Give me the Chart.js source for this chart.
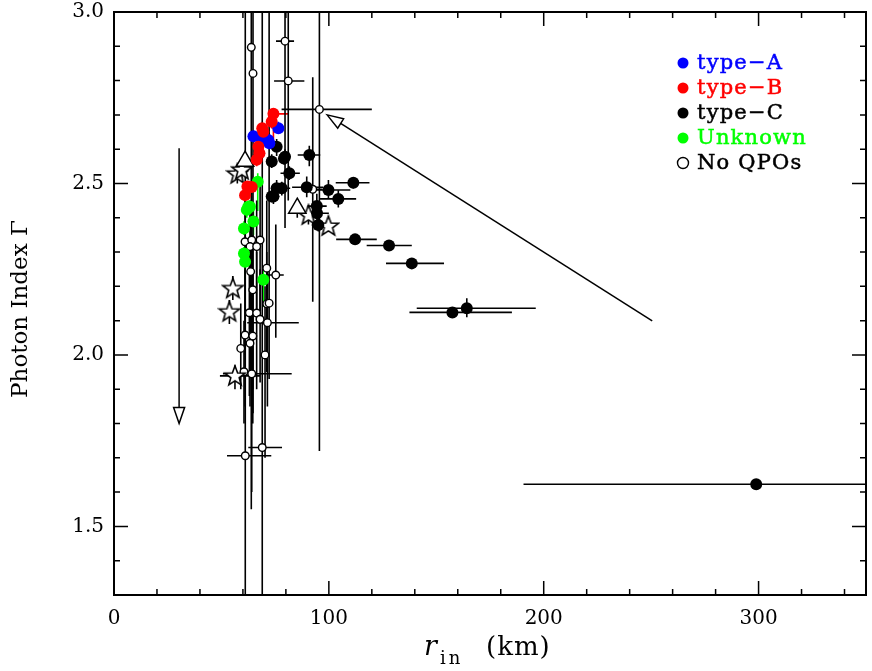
<!DOCTYPE html>
<html>
<head>
<meta charset="utf-8">
<script src="https://cdn.jsdelivr.net/npm/chart.js@4.4.0/dist/chart.umd.min.js"></script>
<style>
html, body { margin: 0; padding: 0; background: #fff; }
</style>
</head>
<body>
<canvas id="gammaChart" width="872" height="671"></canvas>
<script>
// each row: [r_in, Gamma, r_low, r_high, Gamma_low, Gamma_high]
const typeA = [
    [76.5, 2.661, 75.0, 78.0, 2.645, 2.680],
    [64.9, 2.638, 63.5, 66.5, 2.620, 2.655],
    [68.8, 2.629, 67.5, 70.5, 2.610, 2.650],
    [71.8, 2.627, 70.5, 73.5, 2.610, 2.645],
    [72.3, 2.617, 71.0, 74.0, 2.600, 2.635]
];
const typeB = [
    [74.2, 2.703, 72.6, 81.1, 2.610, 2.720],
    [73.4, 2.680, 72.0, 75.0, 2.660, 2.700],
    [69.0, 2.661, 67.5, 70.5, 2.645, 2.680],
    [69.5, 2.651, 68.0, 71.0, 2.635, 2.670],
    [67.2, 2.607, 66.0, 68.5, 2.590, 2.625],
    [67.7, 2.588, 66.5, 69.0, 2.570, 2.605],
    [66.4, 2.569, 65.0, 68.0, 2.550, 2.585],
    [64.1, 2.490, 63.0, 65.5, 2.475, 2.505],
    [62.1, 2.491, 61.0, 63.5, 2.475, 2.505],
    [61.0, 2.466, 60.0, 62.0, 2.450, 2.480]
];
const typeC = [
    [75.7, 2.607, 74.0, 77.5, 2.580, 2.630],
    [79.6, 2.578, 77.5, 81.5, 2.555, 2.600],
    [73.4, 2.564, 72.0, 75.0, 2.545, 2.585],
    [79.1, 2.573, 77.0, 81.0, 2.555, 2.590],
    [90.9, 2.583, 85.5, 96.0, 2.550, 2.610],
    [81.6, 2.530, 77.5, 86.5, 2.510, 2.550],
    [75.7, 2.486, 73.0, 80.0, 2.460, 2.510],
    [78.1, 2.486, 75.0, 82.0, 2.465, 2.505],
    [74.2, 2.462, 72.0, 77.0, 2.440, 2.480],
    [73.4, 2.462, 71.5, 76.0, 2.445, 2.480],
    [89.7, 2.489, 82.9, 97.3, 2.460, 2.520],
    [99.8, 2.481, 92.0, 110.0, 2.455, 2.510],
    [111.4, 2.502, 103.2, 118.9, 2.485, 2.515],
    [104.4, 2.455, 95.9, 112.7, 2.430, 2.480],
    [94.4, 2.434, 90.0, 99.0, 2.400, 2.470],
    [94.5, 2.413, 89.0, 100.0, 2.390, 2.450],
    [95.1, 2.379, 92.0, 98.0, 2.360, 2.400],
    [112.2, 2.337, 103.4, 122.3, 2.330, 2.345],
    [128.0, 2.319, 117.6, 138.6, 2.310, 2.330],
    [138.6, 2.267, 126.6, 153.6, 2.255, 2.280],
    [157.5, 2.124, 137.5, 185.2, 2.110, 2.140],
    [164.2, 2.136, 140.9, 196.3, 2.110, 2.165],
    [298.9, 1.623, 190.6, 360.0, 1.615, 1.630]
];
const unknown = [
    [66.9, 2.505, 66.0, 68.0, 2.420, 2.530],
    [62.5, 2.432, 61.5, 63.5, 2.410, 2.450],
    [63.3, 2.432, 62.3, 64.3, 2.410, 2.450],
    [61.8, 2.423, 60.8, 62.8, 2.400, 2.440],
    [64.9, 2.389, 64.0, 66.0, 2.350, 2.430],
    [60.5, 2.369, 59.5, 61.5, 2.350, 2.390],
    [60.5, 2.296, 59.5, 61.5, 2.275, 2.315],
    [61.0, 2.272, 60.0, 62.0, 2.220, 2.290],
    [69.5, 2.219, 68.5, 70.5, 2.140, 2.250]
];
const noQPOs = [
    [63.9, 2.897, 62.5, 65.5, 1.550, 3.200],
    [64.7, 2.821, 63.5, 66.0, 1.830, 3.200],
    [79.6, 2.915, 75.4, 83.8, 2.370, 3.200],
    [81.1, 2.799, 74.5, 88.6, 2.450, 3.100],
    [95.6, 2.716, 78.0, 120.0, 1.720, 3.200],
    [92.5, 2.483, 88.0, 97.0, 2.155, 2.810],
    [61.1, 1.706, 52.6, 73.2, 1.200, 3.100],
    [69.0, 1.730, 62.5, 78.2, 1.200, 3.100],
    [61.0, 2.330, 60.0, 62.0, 2.000, 2.500],
    [64.1, 2.335, 63.0, 65.0, 1.900, 2.550],
    [68.0, 2.335, 66.5, 69.5, 2.100, 2.500],
    [63.3, 2.316, 62.0, 64.5, 2.050, 2.450],
    [66.4, 2.316, 65.0, 67.5, 2.100, 2.450],
    [63.6, 2.243, 62.5, 64.5, 1.950, 2.400],
    [71.1, 2.253, 69.0, 73.0, 2.000, 2.450],
    [75.3, 2.233, 71.0, 79.0, 2.050, 2.380],
    [64.6, 2.190, 63.5, 65.5, 1.900, 2.350],
    [71.1, 2.149, 70.0, 72.5, 1.950, 2.300],
    [63.0, 2.123, 62.0, 64.0, 1.880, 2.300],
    [66.4, 2.122, 65.0, 67.5, 1.900, 2.300],
    [68.0, 2.104, 67.0, 69.0, 1.920, 2.250],
    [71.4, 2.094, 62.0, 86.0, 1.850, 2.250],
    [61.0, 2.058, 60.0, 62.0, 1.850, 2.250],
    [64.6, 2.055, 63.5, 65.5, 1.800, 2.250],
    [59.0, 2.019, 58.0, 60.0, 1.900, 2.150],
    [63.3, 2.034, 62.0, 64.5, 1.850, 2.200],
    [70.3, 2.000, 69.0, 71.5, 1.700, 2.200],
    [60.5, 1.951, 59.5, 61.5, 1.800, 2.100],
    [64.1, 1.945, 50.7, 82.7, 1.600, 2.200],
    [72.2, 2.151, 71.0, 74.0, 1.930, 3.200]
];
const stars = [
    [57.4, 2.528, 55.5, 59.5, 2.500, 2.555],
    [59.5, 2.540, 57.5, 61.5, 2.515, 2.565],
    [90.5, 2.408, 88.0, 93.0, 2.380, 2.430],
    [99.8, 2.376, 97.0, 102.0, 2.360, 2.390],
    [55.3, 2.194, 54.0, 56.5, 2.160, 2.230],
    [53.7, 2.126, 52.5, 55.0, 2.090, 2.160],
    [56.3, 1.939, 49.3, 68.0, 1.900, 1.970]
];
const triangles = [
    [61.0, 2.565, 59.5, 62.5, 2.530, 2.590],
    [85.3, 2.428, 83.5, 87.0, 2.400, 2.450]
];
// [x_from, y_from, x_to, y_to]
const arrows = [
    [250.5, 2.099, 99.2, 2.700],
    [30.3, 2.603, 30.3, 1.800]
];
const legendNames = ['type\u2212A', 'type\u2212B', 'type\u2212C', 'Unknown', 'No QPOs'];
const legendColors = ['#0000ff', '#ff0000', '#000000', '#00ff00', '#000000'];
const xTicks = [0, 100, 200, 300];
const yTicks = [1.5, 2.0, 2.5, 3.0];

const serif = '"DejaVu Serif", "Liberation Serif", serif';

function toPoints(rows) {
    return rows.map(r => ({x: r[0], y: r[1], xl: r[2], xh: r[3], yl: r[4], yh: r[5]}));
}

// open five pointed star marker
const starImg = document.createElement('canvas');
starImg.width = 24;
starImg.height = 24;
(function () {
    const c = starImg.getContext('2d');
    c.beginPath();
    for (let i = 0; i < 10; i++) {
        const r = i % 2 === 0 ? 10.5 : 4.4;
        const a = -Math.PI / 2 + i * Math.PI / 5;
        const px = 12 + r * Math.cos(a), py = 12.5 + r * Math.sin(a);
        if (i === 0) c.moveTo(px, py); else c.lineTo(px, py);
    }
    c.closePath();
    c.fillStyle = '#fff';
    c.fill();
    c.lineWidth = 1.6;
    c.strokeStyle = '#000';
    c.stroke();
})();

const errorBars = {
    id: 'errorBars',
    beforeDatasetsDraw(chart) {
        const {ctx, chartArea: a, scales: {x, y}} = chart;
        ctx.save();
        ctx.beginPath();
        ctx.rect(a.left, a.top, a.right - a.left, a.bottom - a.top);
        ctx.clip();
        const metas = chart.getSortedVisibleDatasetMetas();
        metas.forEach(meta => {
            const ds = chart.data.datasets[meta.index];
            ctx.strokeStyle = ds.barColor;
            ctx.lineWidth = 1.6;
            ds.data.forEach(p => {
                const px = x.getPixelForValue(p.x), py = y.getPixelForValue(p.y);
                ctx.beginPath();
                ctx.moveTo(x.getPixelForValue(p.xl), py);
                ctx.lineTo(x.getPixelForValue(p.xh), py);
                ctx.moveTo(px, y.getPixelForValue(p.yl));
                ctx.lineTo(px, y.getPixelForValue(p.yh));
                ctx.stroke();
            });
        });
        ctx.restore();
    }
};

const frameAndNotes = {
    id: 'frameAndNotes',
    afterDraw(chart) {
        const {ctx, chartArea: a, scales: {x, y}} = chart;
        ctx.save();
        // arrows
        ctx.strokeStyle = '#000';
        ctx.lineWidth = 1.5;
        arrows.forEach(ar => {
            const x0 = x.getPixelForValue(ar[0]), y0 = y.getPixelForValue(ar[1]);
            const x1 = x.getPixelForValue(ar[2]), y1 = y.getPixelForValue(ar[3]);
            const ang = Math.atan2(y1 - y0, x1 - x0);
            const len = 16, half = 5.5;
            const bx = x1 - len * Math.cos(ang), by = y1 - len * Math.sin(ang);
            ctx.beginPath();
            ctx.moveTo(x0, y0);
            ctx.lineTo(bx, by);
            ctx.stroke();
            ctx.beginPath();
            ctx.moveTo(x1, y1);
            ctx.lineTo(bx + half * Math.sin(ang), by - half * Math.cos(ang));
            ctx.lineTo(bx - half * Math.sin(ang), by + half * Math.cos(ang));
            ctx.closePath();
            ctx.fillStyle = '#fff';
            ctx.fill();
            ctx.stroke();
        });

        // frame and ticks on all four sides
        ctx.lineWidth = 2;
        ctx.strokeRect(a.left, a.top, a.right - a.left, a.bottom - a.top);
        ctx.lineWidth = 1.5;
        ctx.beginPath();
        for (let v = 0; v <= 350; v += 20) {
            const px = x.getPixelForValue(v);
            const len = v % 100 === 0 ? 14 : 6;
            ctx.moveTo(px, a.bottom); ctx.lineTo(px, a.bottom - len);
            ctx.moveTo(px, a.top); ctx.lineTo(px, a.top + len);
        }
        for (let k = 13; k <= 30; k++) {
            const py = y.getPixelForValue(k / 10);
            const len = k % 5 === 0 ? 14 : 6;
            ctx.moveTo(a.left, py); ctx.lineTo(a.left + len, py);
            ctx.moveTo(a.right, py); ctx.lineTo(a.right - len, py);
        }
        ctx.stroke();

        // legend
        ctx.textBaseline = 'middle';
        ctx.textAlign = 'left';
        ctx.font = '21px ' + serif;
        ctx.letterSpacing = '1.2px';
        legendNames.forEach((name, i) => {
            const ly = 63 + i * 25;
            ctx.beginPath();
            ctx.arc(683, ly, 5.5, 0, Math.PI * 2);
            if (i < 4) {
                ctx.fillStyle = legendColors[i];
                ctx.fill();
            } else {
                ctx.fillStyle = '#fff';
                ctx.fill();
                ctx.lineWidth = 1.4;
                ctx.strokeStyle = '#000';
                ctx.stroke();
            }
            ctx.fillStyle = legendColors[i];
            ctx.strokeStyle = legendColors[i];
            ctx.lineWidth = 0.5;
            ctx.fillText(name, 697, ly + 1);
            ctx.strokeText(name, 697, ly + 1);
        });

        // axis titles
        ctx.fillStyle = '#000';
        ctx.textBaseline = 'alphabetic';
        ctx.letterSpacing = '0px';
        ctx.font = 'italic 27px ' + serif;
        ctx.fillText('r', 424, 655);
        ctx.letterSpacing = '3px';
        ctx.font = '18px ' + serif;
        ctx.fillText('in', 440, 664);
        ctx.letterSpacing = '1px';
        ctx.font = '26px ' + serif;
        ctx.fillText('(km)', 486, 655);
        ctx.letterSpacing = '0px';

        ctx.translate(27, 309);
        ctx.rotate(-Math.PI / 2);
        ctx.textAlign = 'center';
        ctx.font = '23px ' + serif;
        ctx.fillText('Photon Index \u0393', 0, 0);
        ctx.restore();
    }
};

function series(rows, opts) {
    return Object.assign({data: toPoints(rows)}, opts);
}

function noPad(s) {
    s.paddingTop = 0;
    s.paddingBottom = 0;
    s.paddingLeft = 0;
    s.paddingRight = 0;
}

const ctx = document.getElementById('gammaChart').getContext('2d');
const gammaChart = new Chart(ctx, {
    type: 'scatter',
    data: {
        datasets: [
            series(typeB, {label: 'type-B', order: 1, barColor: '#ff0000', backgroundColor: '#ff0000', borderColor: '#ff0000', pointRadius: 6, borderWidth: 0}),
            series(typeA, {label: 'type-A', order: 2, barColor: '#0000ff', backgroundColor: '#0000ff', borderColor: '#0000ff', pointRadius: 6, borderWidth: 0}),
            series(unknown, {label: 'Unknown', order: 3, barColor: '#00ff00', backgroundColor: '#00ff00', borderColor: '#00ff00', pointRadius: 6, borderWidth: 0}),
            series(typeC, {label: 'type-C', order: 4, barColor: '#000000', backgroundColor: '#000000', borderColor: '#000000', pointRadius: 6, borderWidth: 0}),
            series(triangles, {label: 'tri', order: 5, barColor: '#000000', pointStyle: 'triangle', backgroundColor: '#ffffff', borderColor: '#000000', pointRadius: 10, borderWidth: 1.5}),
            series(stars, {label: 'star', order: 6, barColor: '#000000', pointStyle: starImg, pointRadius: 10}),
            series(noQPOs, {label: 'No QPOs', order: 7, barColor: '#000000', backgroundColor: '#ffffff', borderColor: '#000000', pointRadius: 3.8, borderWidth: 1.4})
        ]
    },
    options: {
        responsive: false,
        animation: false,
        devicePixelRatio: 1,
        layout: {autoPadding: false, padding: {top: 12, right: 6, left: 0, bottom: 0}},
        plugins: {legend: {display: false}, tooltip: {enabled: false}},
        scales: {
            x: {
                type: 'linear', min: 0, max: 350,
                afterFit: s => { s.height = 76; noPad(s); },
                afterBuildTicks: s => { s.ticks = xTicks.map(v => ({value: v})); },
                grid: {display: false, drawTicks: false},
                border: {display: false},
                ticks: {autoSkip: false, maxRotation: 0, padding: 12, color: '#000', font: {family: serif, size: 20}}
            },
            y: {
                type: 'linear', min: 1.3, max: 3.0,
                afterFit: s => { s.width = 114; noPad(s); },
                afterBuildTicks: s => { s.ticks = yTicks.map(v => ({value: v})); },
                grid: {display: false, drawTicks: false},
                border: {display: false},
                ticks: {autoSkip: false, padding: 10, color: '#000', font: {family: serif, size: 20},
                    callback: v => v.toFixed(1)}
            }
        }
    },
    plugins: [errorBars, frameAndNotes]
});
</script>
</body>
</html>
